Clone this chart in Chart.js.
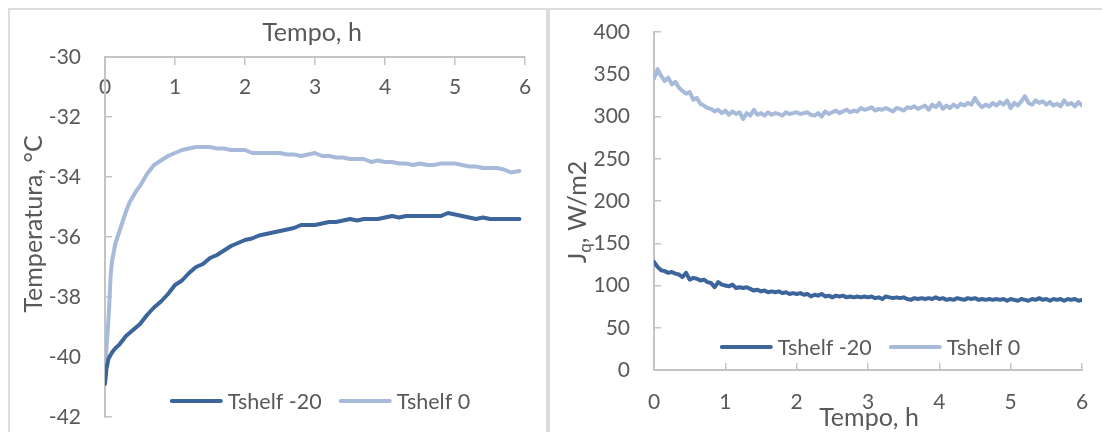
<!DOCTYPE html>
<html>
<head>
<meta charset="utf-8">
<script src="https://cdn.jsdelivr.net/npm/chart.js@4"></script>
<style>
  body { margin: 0; background: #fff; width: 1102px; height: 432px; overflow: hidden; position: relative; }
  canvas { position: absolute; top: 0; }
  #left { left: 0; }
  #right { left: 549px; }
  .panel { position: absolute; border: 2px solid #dcdcdc; border-bottom: none; pointer-events: none; }
</style>
</head>
<body>
<canvas id="left" width="548" height="432"></canvas>
<canvas id="right" width="553" height="432"></canvas>
<div class="panel" style="left:8px; top:8px; width:536px; height:440px;"></div>
<div class="panel" style="left:548px; top:8px; width:600px; height:440px;"></div>
<script>
// ---- data ----
const seriesNames = ['Tshelf -20', 'Tshelf 0'];
const hourTicks = [0, 1, 2, 3, 4, 5, 6];
const tempTicks = [-42, -40, -38, -36, -34, -32, -30];
const fluxTicks = [0, 50, 100, 150, 200, 250, 300, 350, 400];

// temperature, Tshelf -20
const tempTimeM20 = [0, 0.02, 0.05, 0.1, 0.15, 0.2, 0.3, 0.4, 0.5, 0.6, 0.7, 0.8, 0.9, 1.0,
  1.1, 1.2, 1.3, 1.4, 1.5, 1.6, 1.7, 1.8, 1.9, 2.0, 2.1, 2.2, 2.3, 2.4, 2.5, 2.6, 2.7, 2.8, 2.9, 3.0,
  3.1, 3.2, 3.3, 3.4, 3.5, 3.6, 3.7, 3.8, 3.9, 4.0, 4.1, 4.2, 4.3, 4.4, 4.5, 4.6, 4.7, 4.8, 4.9, 5.0,
  5.1, 5.2, 5.3, 5.4, 5.5, 5.6, 5.7, 5.8, 5.92];
const tempM20 = [-40.9, -40.4, -40.05, -39.85, -39.7, -39.6, -39.3, -39.1, -38.9, -38.6, -38.35, -38.15, -37.9, -37.6,
  -37.45, -37.2, -37.0, -36.9, -36.7, -36.6, -36.45, -36.3, -36.2, -36.1, -36.05, -35.95, -35.9, -35.85, -35.8, -35.75, -35.7, -35.6, -35.6, -35.6,
  -35.55, -35.5, -35.5, -35.45, -35.4, -35.45, -35.4, -35.4, -35.4, -35.35, -35.3, -35.35, -35.3, -35.3, -35.3, -35.3, -35.3, -35.3, -35.2, -35.25,
  -35.3, -35.35, -35.4, -35.35, -35.4, -35.4, -35.4, -35.4, -35.4];

// temperature, Tshelf 0
const tempTime0 = [0, 0.01, 0.02, 0.04, 0.06, 0.08, 0.1, 0.15, 0.2, 0.25, 0.3, 0.35, 0.4, 0.45, 0.5, 0.55, 0.6, 0.65, 0.7, 0.8, 0.9, 1.0,
  1.1, 1.2, 1.3, 1.4, 1.5, 1.6, 1.7, 1.8, 1.9, 2.0, 2.1, 2.2, 2.3, 2.4, 2.5, 2.6, 2.7, 2.8, 2.9, 3.0,
  3.1, 3.2, 3.3, 3.4, 3.5, 3.6, 3.7, 3.8, 3.9, 4.0, 4.1, 4.2, 4.3, 4.4, 4.5, 4.6, 4.7, 4.8, 4.9, 5.0,
  5.1, 5.2, 5.3, 5.4, 5.5, 5.6, 5.7, 5.8, 5.92];
const temp0 = [-40.6, -40.2, -39.7, -39.1, -38.3, -37.3, -36.8, -36.2, -35.85, -35.5, -35.15, -34.85, -34.65, -34.45, -34.3, -34.1, -33.9, -33.75, -33.6, -33.45, -33.3, -33.2,
  -33.1, -33.05, -33.0, -33.0, -33.0, -33.05, -33.05, -33.1, -33.1, -33.1, -33.2, -33.2, -33.2, -33.2, -33.2, -33.25, -33.25, -33.3, -33.25, -33.2,
  -33.3, -33.3, -33.35, -33.35, -33.4, -33.4, -33.4, -33.5, -33.45, -33.5, -33.5, -33.55, -33.55, -33.6, -33.55, -33.6, -33.6, -33.55, -33.55, -33.55,
  -33.6, -33.65, -33.65, -33.7, -33.7, -33.7, -33.75, -33.85, -33.8];

// heat flux, both runs sampled every 0.05 h
const fluxTime = [0, 0.05, 0.1, 0.15, 0.2, 0.25, 0.3, 0.35, 0.4, 0.45, 0.5, 0.55, 0.6, 0.65, 0.7, 0.75, 0.8, 0.85, 0.9, 0.95,
  1, 1.05, 1.1, 1.15, 1.2, 1.25, 1.3, 1.35, 1.4, 1.45, 1.5, 1.55, 1.6, 1.65, 1.7, 1.75, 1.8, 1.85, 1.9, 1.95,
  2, 2.05, 2.1, 2.15, 2.2, 2.25, 2.3, 2.35, 2.4, 2.45, 2.5, 2.55, 2.6, 2.65, 2.7, 2.75, 2.8, 2.85, 2.9, 2.95,
  3, 3.05, 3.1, 3.15, 3.2, 3.25, 3.3, 3.35, 3.4, 3.45, 3.5, 3.55, 3.6, 3.65, 3.7, 3.75, 3.8, 3.85, 3.9, 3.95,
  4, 4.05, 4.1, 4.15, 4.2, 4.25, 4.3, 4.35, 4.4, 4.45, 4.5, 4.55, 4.6, 4.65, 4.7, 4.75, 4.8, 4.85, 4.9, 4.95,
  5, 5.05, 5.1, 5.15, 5.2, 5.25, 5.3, 5.35, 5.4, 5.45, 5.5, 5.55, 5.6, 5.65, 5.7, 5.75, 5.8, 5.85, 5.9, 5.95, 6];
const fluxM20 = [128, 122, 118, 117, 115, 116, 114, 113, 110, 115, 107, 109, 108, 106, 107, 104, 103, 98, 104, 101,
  100, 99, 101, 97, 98, 97, 98, 96, 94, 95, 93, 94, 92, 93, 92, 93, 91, 92, 90, 91,
  90, 91, 89, 90, 87, 89, 88, 90, 87, 88, 86, 88, 87, 88, 86, 87, 86, 87, 86, 87,
  86, 87, 85, 86, 84, 87, 86, 85, 86, 85, 86, 84, 83, 85, 84, 85, 84, 85, 84, 86,
  84, 85, 83, 84, 83, 85, 84, 83, 85, 84, 85, 83, 84, 83, 84, 83, 84, 83, 84, 82,
  84, 83, 82, 84, 83, 82, 84, 83, 85, 83, 84, 82, 84, 83, 84, 82, 84, 83, 84, 82, 83];
const flux0 = [345, 356, 348, 342, 346, 338, 341, 334, 330, 327, 329, 320, 322, 315, 313, 310, 309, 306, 308, 304,
  307, 302, 306, 303, 305, 297, 304, 301, 308, 302, 304, 301, 305, 302, 304, 303, 301, 305, 303, 304,
  305, 303, 304, 305, 302, 301, 304, 300, 306, 303, 305, 307, 304, 306, 308, 305, 307, 306, 310, 308,
  309, 311, 307, 309, 308, 310, 308, 306, 310, 309, 307, 311, 310, 312, 309, 311, 313, 308, 314, 311,
  316, 309, 313, 310, 314, 311, 315, 313, 316, 314, 322, 315, 311, 314, 312, 316, 313, 317, 314, 319,
  310, 316, 313, 318, 324, 316, 314, 319, 316, 318, 314, 317, 313, 315, 312, 319, 314, 316, 312, 317, 313];

// ---- styling ----
const DARK = '#3c659b';
const LIGHT = '#a8bad9';
const TEXT = '#595959';
const AXIS = '#c4c4c4';
const FONT_FAMILY = 'Lato, "Open Sans", sans-serif';
const TICK_SIZE = 21;
const LEGEND_SIZE = 21.5;
const TITLE_SIZE = 25;

function pts(xs, ys) {
  return xs.map((x, i) => ({ x: x, y: ys[i] }));
}

function lineSet(label, data, color) {
  return {
    label: label,
    data: data,
    borderColor: color,
    backgroundColor: color,
    borderWidth: 4,
    pointRadius: 0,
    tension: 0,
    borderCapStyle: 'round',
    borderJoinStyle: 'round'
  };
}

// legend drawn inside the plot area, like the Excel one
const insideLegend = {
  id: 'insideLegend',
  afterDraw(chart, args, opts) {
    const { ctx, chartArea } = chart;
    const sets = chart.data.datasets;
    ctx.save();
    ctx.font = LEGEND_SIZE + 'px ' + FONT_FAMILY;
    const sample = 53, gapA = 5, gapB = 17;
    let total = 0;
    sets.forEach((d, i) => {
      total += sample + gapA + ctx.measureText(d.label).width + (i < sets.length - 1 ? gapB : 0);
    });
    let x = (chartArea.left + chartArea.right) / 2 - total / 2 + opts.shift;
    const y = chartArea.bottom - opts.fromBottom;
    sets.forEach(d => {
      ctx.strokeStyle = d.borderColor;
      ctx.lineWidth = 4;
      ctx.lineCap = 'round';
      ctx.beginPath();
      ctx.moveTo(x + 2, y);
      ctx.lineTo(x + sample - 2, y);
      ctx.stroke();
      x += sample + gapA;
      ctx.fillStyle = TEXT;
      ctx.textAlign = 'left';
      ctx.textBaseline = 'middle';
      ctx.fillText(d.label, x, y + 1);
      x += ctx.measureText(d.label).width + gapB;
    });
    ctx.restore();
  }
};

// axis titles (one of them needs a subscript)
const axisText = {
  id: 'axisText',
  afterDraw(chart, args, opts) {
    const { ctx, chartArea: a } = chart;
    const mainFont = TITLE_SIZE + 'px ' + FONT_FAMILY;
    const subFont = '17px ' + FONT_FAMILY;
    ctx.save();
    ctx.fillStyle = TEXT;
    ctx.textBaseline = 'middle';
    ctx.font = mainFont;
    if (opts.xTitle) {
      ctx.textAlign = 'center';
      const ty = opts.xAtTop ? a.top - opts.xGap : a.bottom + opts.xGap;
      ctx.fillText(opts.xTitle, (a.left + a.right) / 2 + opts.xShift, ty);
    }
    if (opts.yParts) {
      ctx.translate(opts.yX, (a.top + a.bottom) / 2 + opts.yShift);
      ctx.rotate(-Math.PI / 2);
      ctx.textAlign = 'left';
      let w = 0;
      opts.yParts.forEach(p => {
        ctx.font = p.sub ? subFont : mainFont;
        w += ctx.measureText(p.text).width;
      });
      let x = -w / 2;
      opts.yParts.forEach(p => {
        ctx.font = p.sub ? subFont : mainFont;
        ctx.fillText(p.text, x, p.sub ? 8 : 0);
        x += ctx.measureText(p.text).width;
      });
    }
    ctx.restore();
  }
};

Chart.defaults.font.family = FONT_FAMILY;
Chart.defaults.font.size = TICK_SIZE;
Chart.defaults.color = TEXT;
Chart.defaults.animation = false;

// keep the plot area where the layout padding puts it
function noEdgePadding(s) {
  s.paddingLeft = 0;
  s.paddingRight = 0;
  s.paddingTop = 0;
  s.paddingBottom = 0;
}

function axis(min, max, ticks, extra) {
  return Object.assign({
    type: 'linear',
    min: min,
    max: max,
    afterBuildTicks: s => { s.ticks = ticks.map(v => ({ value: v })); },
    grid: { drawOnChartArea: false, color: AXIS, lineWidth: 1.5, tickLength: -7 },
    border: { color: AXIS, width: 2 },
    ticks: { color: TEXT, padding: 31, maxRotation: 0, autoSkip: false }
  }, extra);
}

// left: temperature
new Chart(document.getElementById('left'), {
  type: 'line',
  data: {
    datasets: [
      lineSet(seriesNames[0], pts(tempTimeM20, tempM20), DARK),
      lineSet(seriesNames[1], pts(tempTime0, temp0), LIGHT)
    ]
  },
  options: {
    responsive: false,
    layout: { padding: { left: 0, top: 57, right: 23, bottom: 15 } },
    plugins: {
      legend: { display: false },
      tooltip: { enabled: false },
      insideLegend: { shift: 5, fromBottom: 16 },
      axisText: {
        xTitle: 'Tempo, h', xAtTop: true, xGap: 24, xShift: -3,
        yParts: [{ text: 'Temperatura, °C' }], yX: 34, yShift: -13
      }
    },
    scales: {
      x: axis(0, 6, hourTicks, {
        position: { y: -30 },
        grid: { drawOnChartArea: false, color: AXIS, lineWidth: 1.5, tickLength: 7 },
        ticks: { color: TEXT, padding: 11, maxRotation: 0, autoSkip: false },
        afterFit: s => { noEdgePadding(s); s.height = 0; }
      }),
      y: axis(-42, -30, tempTicks, {
        position: 'left',
        afterFit: s => { noEdgePadding(s); s.width = 105; }
      })
    }
  },
  plugins: [insideLegend, axisText]
});

// right: heat flux
new Chart(document.getElementById('right'), {
  type: 'line',
  data: {
    datasets: [
      lineSet(seriesNames[0], pts(fluxTime, fluxM20), DARK),
      lineSet(seriesNames[1], pts(fluxTime, flux0), LIGHT)
    ]
  },
  options: {
    responsive: false,
    layout: { padding: { left: 0, top: 32, right: 20, bottom: 0 } },
    plugins: {
      legend: { display: false },
      tooltip: { enabled: false },
      insideLegend: { shift: 2, fromBottom: 23 },
      axisText: {
        xTitle: 'Tempo, h', xAtTop: false, xGap: 48, xShift: 1,
        yParts: [{ text: 'J' }, { text: 'q', sub: true }, { text: ', W/m2' }], yX: 29, yShift: 11
      }
    },
    scales: {
      x: axis(0, 6, hourTicks, {
        position: 'bottom',
        ticks: { color: TEXT, padding: 27, maxRotation: 0, autoSkip: false },
        afterFit: s => { noEdgePadding(s); s.height = 62; }
      }),
      y: axis(0, 400, fluxTicks, {
        position: 'left',
        afterFit: s => { noEdgePadding(s); s.width = 105; }
      })
    }
  },
  plugins: [insideLegend, axisText]
});
</script>
</body>
</html>
